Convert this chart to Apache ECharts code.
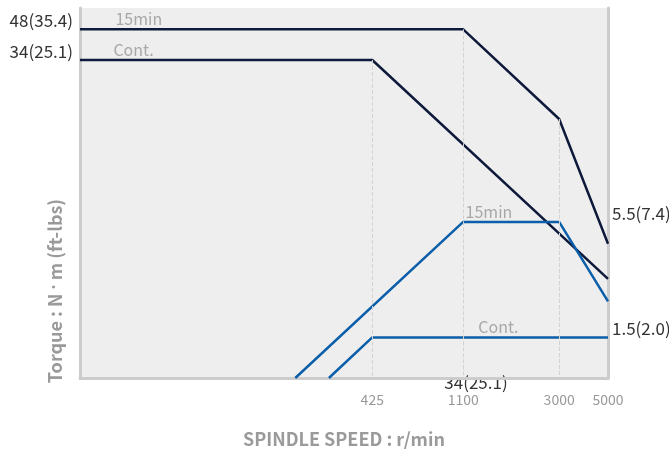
<!DOCTYPE html>
<html>
<head>
<meta charset="utf-8">
<script src="https://cdn.jsdelivr.net/npm/echarts@6/dist/echarts.min.js"></script>
<style>
  html, body { margin: 0; padding: 0; background: #fff; }
  #chart { width: 669px; height: 452px; }
</style>
</head>
<body>
<div id="chart"></div>
<script>
// speed axis (r/min), log scale
var speedMin = 20;
var speedMax = 5000;
var speedTicks = [425, 1100, 3000, 5000];

// torque N·m / power kW share one log axis
var valueMin = 0.95;
var valueMax = 61;

var torque15 = [[20, 48], [1100, 48], [3000, 17.5], [5000, 4.3]];
var torqueCont = [[20, 34], [425, 34], [5000, 2.9]];
var power15 = [[190, 0.95], [1100, 5.5], [3000, 5.5], [5000, 2.25]];
var powerCont = [[270, 0.95], [425, 1.5], [5000, 1.5]];

var torqueTicks = [48, 34];
var torqueTickText = ['48(35.4)', '34(25.1)'];
var powerTicks = [5.5, 1.5];
var powerTickText = ['5.5(7.4)', '1.5(2.0)'];

var navy = '#0e1a3b';
var blue = '#0b5ea9';
var font = '"Noto Sans CJK SC", "Noto Sans", sans-serif';

function dropLine(pt) {
    return [{ coord: [pt[0], pt[1]] }, { coord: [pt[0], valueMin] }];
}

function tag(text, x, y) {
    return {
        coord: [x, y],
        symbol: 'circle',
        symbolSize: 0,
        label: {
            show: true, position: 'top', distance: 2,
            formatter: text, color: '#a8a8a8', fontSize: 16, fontFamily: font
        }
    };
}

var myChart = echarts.init(document.getElementById('chart'));
myChart.setOption({
    animation: false,
    grid: {
        left: 80, right: 61, top: 8, bottom: 74,
        outerBoundsMode: 'none',
        containLabel: false,
        show: true, backgroundColor: '#eeeeee', borderWidth: 0
    },
    xAxis: {
        type: 'log',
        min: speedMin,
        max: speedMax,
        name: 'SPINDLE SPEED : r/min',
        nameLocation: 'middle',
        nameGap: 52,
        nameTextStyle: { color: '#9a9a9a', fontSize: 18, fontWeight: 'bold', fontFamily: font },
        axisLine: { show: true, lineStyle: { color: '#cccccc', width: 3 } },
        axisTick: { show: false },
        splitLine: { show: false },
        axisLabel: {
            customValues: speedTicks,
            margin: 15,
            color: '#999999', fontSize: 14, fontFamily: font,
            formatter: function (v) { return String(v); }
        }
    },
    yAxis: [{
        type: 'log',
        min: valueMin,
        max: valueMax,
        position: 'left',
        axisLine: { show: true, lineStyle: { color: '#cccccc', width: 3 } },
        axisTick: { show: false },
        splitLine: { show: false },
        axisLabel: {
            customValues: torqueTicks,
            verticalAlign: 'bottom',
            margin: 7,
            color: '#333333', fontSize: 17, fontFamily: font,
            formatter: function (v) {
                var i = torqueTicks.indexOf(v);
                return i < 0 ? '' : torqueTickText[i];
            }
        }
    }, {
        type: 'log',
        min: valueMin,
        max: valueMax,
        position: 'right',
        axisLine: { show: true, lineStyle: { color: '#cccccc', width: 3 } },
        axisTick: { show: false },
        splitLine: { show: false },
        axisLabel: {
            customValues: powerTicks,
            verticalAlign: 'bottom',
            margin: 4,
            color: '#333333', fontSize: 17, fontFamily: font,
            formatter: function (v) {
                var i = powerTicks.indexOf(v);
                return i < 0 ? '' : powerTickText[i];
            }
        }
    }],
    graphic: [{
        type: 'text',
        x: 55, y: 291,
        rotation: Math.PI / 2,
        style: {
            text: 'Torque : N {d|·} m (ft-lbs)',
            fill: '#9a9a9a', font: 'bold 18px ' + font,
            rich: { d: { fontFamily: '"Noto Sans", sans-serif', fontSize: 18, fontWeight: 'bold', fill: '#9a9a9a' } },
            textAlign: 'center', textVerticalAlign: 'middle'
        }
    }, {
        type: 'text',
        x: 476, y: 383,
        style: {
            text: '34(25.1)',
            fill: '#333333', font: '17px ' + font,
            textAlign: 'center', textVerticalAlign: 'middle'
        }
    }],
    series: [{
        name: 'Torque 15min',
        type: 'line',
        data: torque15,
        symbol: 'none',
        lineStyle: { color: navy, width: 2.5 },
        z: 3,
        markLine: {
            silent: true, symbol: 'none', label: { show: false },
            lineStyle: { color: '#d2d2d2', type: 'dashed', width: 1 },
            data: [dropLine(torque15[1]), dropLine(torque15[2])]
        },
        markPoint: { data: [tag('15min', 37, 48)] }
    }, {
        name: 'Torque Cont.',
        type: 'line',
        data: torqueCont,
        symbol: 'none',
        lineStyle: { color: navy, width: 2.5 },
        z: 3,
        markLine: {
            silent: true, symbol: 'none', label: { show: false },
            lineStyle: { color: '#d2d2d2', type: 'dashed', width: 1 },
            data: [dropLine(torqueCont[1])]
        },
        markPoint: { data: [tag('Cont.', 35, 34)] }
    }, {
        name: 'Power 15min',
        type: 'line',
        data: power15,
        symbol: 'none',
        lineStyle: { color: blue, width: 2.5 },
        z: 4,
        markPoint: { data: [tag('15min', 1440, 5.5)] }
    }, {
        name: 'Power Cont.',
        type: 'line',
        data: powerCont,
        symbol: 'none',
        lineStyle: { color: blue, width: 2.5 },
        z: 4,
        markPoint: { data: [tag('Cont.', 1590, 1.5)] }
    }]
});
</script>
</body>
</html>
